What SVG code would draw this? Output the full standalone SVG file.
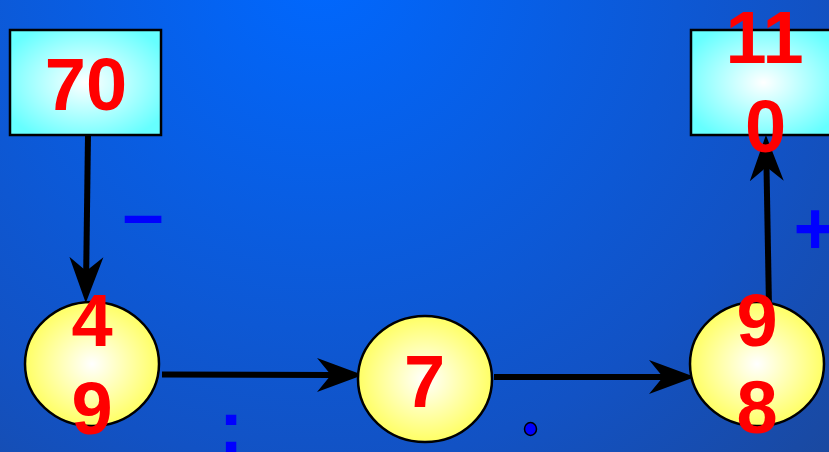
<svg xmlns="http://www.w3.org/2000/svg" width="829" height="452" viewBox="0 0 829 452">
<defs>
<radialGradient id="bg" gradientUnits="userSpaceOnUse" cx="320" cy="-30" r="900">
<stop offset="0" stop-color="#0068ff"/>
<stop offset="0.55" stop-color="#1252c4"/>
<stop offset="1" stop-color="#22407e"/>
</radialGradient>
<radialGradient id="cyan" cx="0.5" cy="0.5" r="0.6">
<stop offset="0" stop-color="#ffffff"/>
<stop offset="1" stop-color="#66ffff"/>
</radialGradient>
<radialGradient id="yel" cx="0.5" cy="0.5" r="0.55">
<stop offset="0" stop-color="#ffffff"/>
<stop offset="1" stop-color="#ffff55"/>
</radialGradient>
<marker id="ah" markerUnits="userSpaceOnUse" markerWidth="50" markerHeight="40" viewBox="0 -20 50 40" refX="14" refY="0" orient="auto">
<path d="M0,-17 L46,0 L0,17 L14,0 Z" fill="#000"/>
</marker>
</defs>
<style>
.box{fill:url(#cyan);stroke:#000;stroke-width:2.5}
.ell{fill:url(#yel);stroke:#000;stroke-width:2.5}
.num{font-family:"Liberation Sans",Arial,sans-serif;font-weight:bold;font-size:74px;fill:#ff0000;text-anchor:middle}
.op{font-family:"Liberation Sans",Arial,sans-serif;font-weight:bold;font-size:74px;fill:#0000ff;text-anchor:middle}
.edge{stroke:#000;stroke-width:6;fill:none;marker-end:url(#ah)}
</style>
<rect width="829" height="452" fill="url(#bg)"/>
<g id="connectors">
<path class="edge" d="M88,135 L86.2,271"/>
<path class="edge" d="M162,374.5 L331,375"/>
<path class="edge" d="M494,377 L663,377"/>
<path class="edge" d="M769,307 L766.5,167"/>
</g>
<g id="n70">
<rect class="box" x="10" y="30" width="151" height="105"/>
<text class="num" x="86" y="110">70</text>
</g>
<g id="n110">
<rect class="box" x="691" y="30" width="145" height="105"/>
<text class="num" x="764.5" y="63">11</text>
<text class="num" x="765.5" y="152">0</text>
</g>
<g id="n49">
<ellipse class="ell" cx="92" cy="364" rx="67" ry="62"/>
<text class="num" x="92" y="346">4</text>
<text class="num" x="92" y="434">9</text>
</g>
<g id="n7">
<ellipse class="ell" cx="425" cy="379" rx="67" ry="63"/>
<text class="num" x="424.5" y="407">7</text>
</g>
<g id="n98">
<ellipse class="ell" cx="757" cy="364" rx="67" ry="62"/>
<text class="num" x="757" y="346">9</text>
<text class="num" x="757" y="433">8</text>
</g>
<g id="ops">
<text class="op" x="143" y="239">–</text>
<text class="op" x="231" y="452">:</text>
<ellipse cx="530.5" cy="429" rx="6" ry="6.5" fill="#0000ff" stroke="#000" stroke-width="1.5"/>
<text class="op" x="815" y="254">+</text>
</g>
</svg>
